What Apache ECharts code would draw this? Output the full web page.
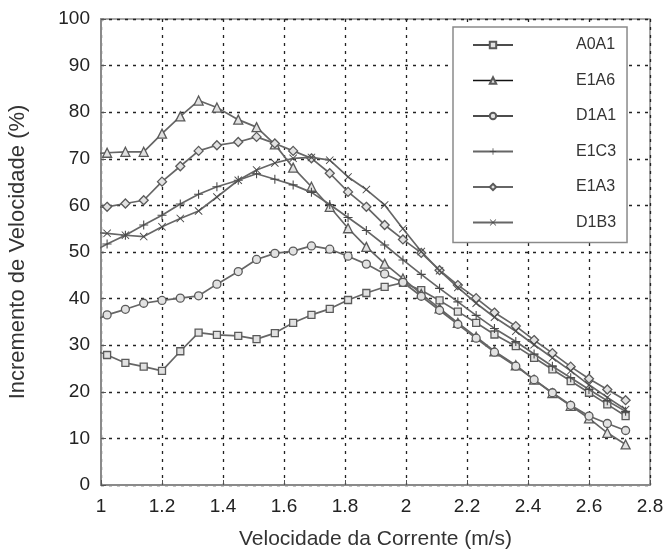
<!DOCTYPE html>
<html>
<head>
<meta charset="utf-8">
<script src="https://cdn.jsdelivr.net/npm/echarts@6/dist/echarts.min.js"></script>
<style>
html,body{margin:0;padding:0;background:#fff;}
#chart{width:669px;height:558px;}
</style>
</head>
<body>
<div id="chart"></div>
<script>
// Velocity (m/s) sample positions (first point lies just left of the axis and is clipped)
var velocity = [0.96, 1.02, 1.08, 1.14, 1.20, 1.26, 1.32, 1.38, 1.45, 1.51, 1.57, 1.63, 1.69, 1.75, 1.81,
                1.87, 1.93, 1.99, 2.05, 2.11, 2.17, 2.23, 2.29, 2.36, 2.42, 2.48, 2.54, 2.60, 2.66, 2.72];

var seriesNames = ['A0A1', 'E1A6', 'D1A1', 'E1C3', 'E1A3', 'D1B3'];

var A0A1 = [29.3, 27.9, 26.2, 25.4, 24.5, 28.7, 32.7, 32.2, 32.0, 31.3, 32.6, 34.8, 36.5, 37.8, 39.7,
            41.2, 42.5, 43.4, 41.8, 39.6, 37.2, 34.8, 32.3, 29.8, 27.3, 24.8, 22.3, 19.8, 17.3, 14.8];
var E1A6 = [71.0, 71.3, 71.5, 71.5, 75.4, 79.1, 82.5, 81.0, 78.4, 76.8, 73.1, 68.1, 64.0, 59.7, 55.1,
            51.1, 47.5, 44.3, 41.0, 37.9, 34.8, 31.8, 28.7, 25.7, 22.6, 19.7, 17.0, 14.3, 11.2, 8.7];
var D1A1 = [34.8, 36.5, 37.7, 39.0, 39.6, 40.1, 40.6, 43.1, 45.8, 48.4, 49.7, 50.2, 51.3, 50.6, 49.1,
            47.4, 45.3, 43.5, 40.5, 37.5, 34.5, 31.5, 28.5, 25.5, 22.6, 19.8, 17.1, 14.8, 13.2, 11.7];
var E1C3 = [49.6, 51.7, 53.6, 55.8, 57.9, 60.3, 62.4, 64.0, 65.4, 66.8, 65.6, 64.4, 62.8, 60.2, 57.4,
            54.6, 51.5, 48.3, 45.2, 42.2, 39.3, 36.4, 33.6, 30.8, 28.1, 25.5, 23.0, 20.5, 18.1, 15.8];
var E1A3 = [59.5, 59.7, 60.4, 61.1, 65.1, 68.4, 71.7, 72.9, 73.6, 74.7, 73.3, 71.7, 70.1, 66.9, 62.9,
            59.7, 55.8, 52.7, 49.8, 46.1, 42.9, 40.1, 37.0, 34.1, 31.1, 28.3, 25.4, 22.8, 20.5, 18.2];
var D1B3 = [54.3, 54.0, 53.6, 53.3, 55.4, 57.2, 58.8, 61.8, 65.4, 67.6, 69.1, 70.1, 70.3, 69.7, 66.1,
            63.4, 60.1, 55.0, 50.1, 46.0, 42.4, 39.0, 36.0, 33.0, 30.1, 27.3, 24.5, 21.5, 18.8, 16.2];

var yTicks = [0, 10, 20, 30, 40, 50, 60, 70, 80, 90, 100];
var xTicks = [1, 1.2, 1.4, 1.6, 1.8, 2, 2.2, 2.4, 2.6, 2.8];

var allValues = [A0A1, E1A6, D1A1, E1C3, E1A3, D1B3];

var PLUS = 'path://M4.4,0H5.6V4.4H10V5.6H5.6V10H4.4V5.6H0V4.4H4.4Z';
var CROSS = 'path://M0.8,0L5,4.2L9.2,0L10,0.8L5.8,5L10,9.2L9.2,10L5,5.8L0.8,10L0,9.2L4.2,5L0,0.8Z';
var symbols = ['rect', 'triangle', 'circle', PLUS, 'diamond', CROSS];
var sizes = [7, 9, 8, 9, 9, 8];
var hollow = [true, true, true, false, true, false];

function pairs(vals) {
  return velocity.map(function (v, i) { return [v, vals[i]]; });
}

var lineCol = '#666666';
var series = seriesNames.map(function (name, k) {
  return {
    name: name,
    type: 'line',
    data: pairs(allValues[k]),
    symbol: symbols[k],
    symbolSize: sizes[k],
    showAllSymbol: true,
    clip: true,
    lineStyle: { color: lineCol, width: 1.7 },
    itemStyle: hollow[k]
      ? { color: '#e2e2e2', borderColor: '#5a5a5a', borderWidth: 1.3 }
      : { color: '#4a4a4a', borderWidth: 0 },
    emphasis: { disabled: true },
    z: 2 + k
  };
});

var legendData = seriesNames.map(function (name, k) {
  var item = { name: name };
  if (k < 3) item.lineStyle = { color: '#111', width: 1.4 };
  return item;
});

var chart = echarts.init(document.getElementById('chart'), null, { renderer: 'canvas' });
chart.setOption({
  backgroundColor: '#ffffff',
  animation: false,
  textStyle: { fontFamily: 'Liberation Sans, Arial, sans-serif' },
  grid: {
    left: 101, right: 19, top: 19, bottom: 73,
    containLabel: false, outerBoundsMode: 'none',
    show: true, borderColor: '#8a8a8a', borderWidth: 1.5
  },
  legend: {
    data: legendData,
    orient: 'vertical',
    left: 453, top: 27,
    itemWidth: 40, itemHeight: 8, itemGap: 19.5,
    padding: [10, 11, 12, 19],
    borderColor: '#8a8a8a', borderWidth: 1.5,
    backgroundColor: '#ffffff',
    selectedMode: false,
    textStyle: { fontSize: 16, color: '#333', padding: [0, 0, 0, 58] }
  },
  xAxis: {
    type: 'value', min: xTicks[0], max: xTicks[xTicks.length - 1], interval: 0.2,
    name: 'Velocidade da Corrente (m/s)', nameLocation: 'middle', nameGap: 44,
    nameTextStyle: { fontSize: 21, color: '#333' },
    axisLine: { show: true, lineStyle: { color: '#8a8a8a', width: 2 } },
    axisTick: { show: true, inside: true, length: 5, lineStyle: { color: '#555' } },
    axisLabel: { fontSize: 19, color: '#222', margin: 12,
      formatter: function (v) { return String(Math.round(v * 10) / 10); } },
    splitLine: { show: true, lineStyle: { color: '#222', type: [3, 5], width: 1.3 } }
  },
  yAxis: {
    type: 'value', min: yTicks[0], max: yTicks[yTicks.length - 1], interval: 10,
    name: 'Incremento de Velocidade (%)', nameLocation: 'middle', nameGap: 72,
    nameTextStyle: { fontSize: 22, color: '#333' },
    axisLine: { show: true, lineStyle: { color: '#8a8a8a', width: 2 } },
    axisTick: { show: true, inside: true, length: 5, lineStyle: { color: '#555' } },
    axisLabel: { fontSize: 19, color: '#222', margin: 11 },
    splitLine: { show: true, lineStyle: { color: '#222', type: [3, 5], width: 1.3 } }
  },
  series: series
});
</script>
</body>
</html>
